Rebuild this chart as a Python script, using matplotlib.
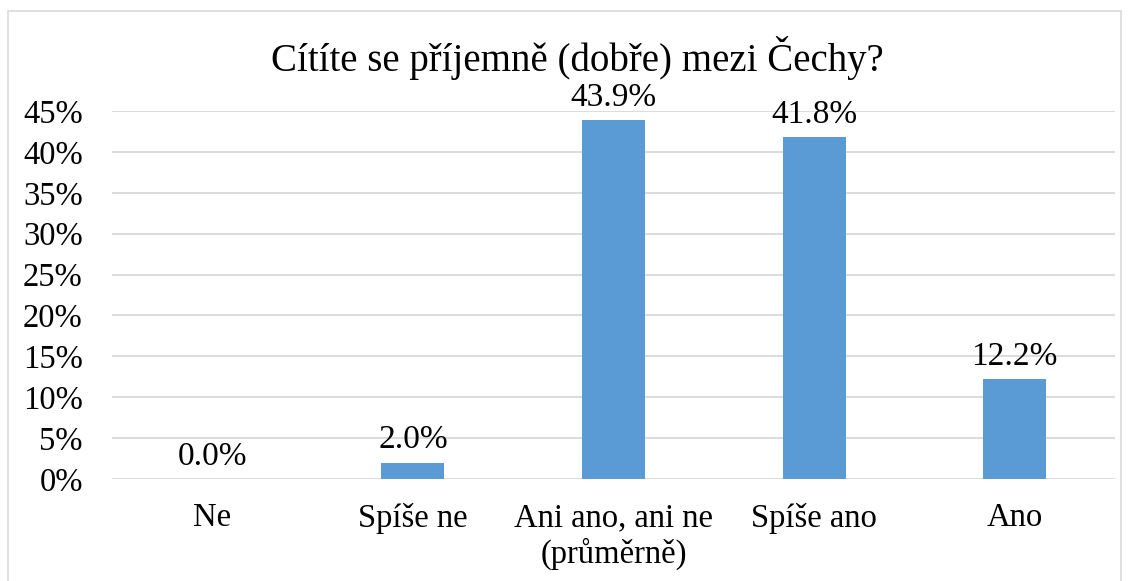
import matplotlib.pyplot as plt
from matplotlib.patches import Rectangle
from matplotlib.ticker import FuncFormatter

categories = ['Ne', 'Spíše ne', 'Ani ano, ani ne\n(průměrně)', 'Spíše ano', 'Ano']
values = [0.0, 2.0, 43.9, 41.8, 12.2]
yticks = [0, 5, 10, 15, 20, 25, 30, 35, 40, 45]
title = 'Cítíte se příjemně (dobře) mezi Čechy?'

plt.rcParams['font.family'] = ['Liberation Serif', 'DejaVu Serif']

fig = plt.figure(figsize=(11.32, 5.81), dpi=100)
ax = fig.add_axes([112 / 1132, 1 - 479 / 581, (1115 - 112) / 1132, (479 - 111) / 581])

# outer chart border like Excel
fig.patches.append(Rectangle((8 / 1132, -0.05), (1121 - 8) / 1132, (581 - 11) / 581 + 0.05,
                             transform=fig.transFigure, fill=False,
                             edgecolor='#D9D9D9', linewidth=1.2))

x = range(len(categories))
bars = ax.bar(x, values, width=0.315, color='#5B9BD5', zorder=3)
for b, v in zip(bars, values):
    ax.text(b.get_x() + b.get_width() / 2, v + 0.9, f'{v:.1f}%',
            ha='center', va='bottom', fontsize=24)

ax.set_xlim(-0.5, len(categories) - 0.5)
ax.set_ylim(0, 45)
ax.set_yticks(yticks)
ax.yaxis.set_major_formatter(FuncFormatter(lambda v, p: f'{v:.0f}%'))
ax.set_xticks(list(x))
ax.set_xticklabels(categories, fontsize=23.5, linespacing=1.2)
ax.tick_params(axis='y', labelsize=23.5, length=0, pad=21)
ax.tick_params(axis='x', length=0, pad=17)
ax.grid(axis='y', color='#D9D9D9', linewidth=1.3, zorder=0)
for s in ax.spines.values():
    s.set_visible(False)

fig.text(577 / 1132, 1 - 58 / 581, title, ha='center', va='center', fontsize=28)

fig.savefig('out.png', dpi=100)
